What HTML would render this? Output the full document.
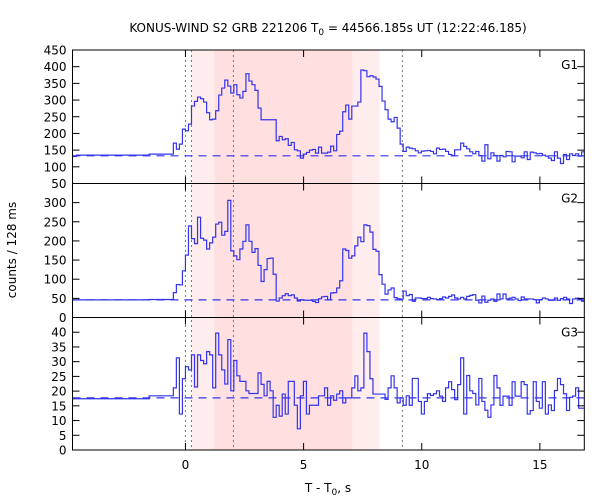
<!DOCTYPE html>
<html><head><meta charset="utf-8"><style>
body{margin:0;background:#fff}
svg{display:block}
text{font-family:"DejaVu Sans","Liberation Sans",sans-serif;font-size:12px;fill:#000}
</style></head><body>
<svg id="chart" width="600" height="500" viewBox="0 0 600 500" xmlns="http://www.w3.org/2000/svg">
<text x="328" y="32" text-anchor="middle">KONUS-WIND S2 GRB 221206 T<tspan dy="3" font-size="9">0</tspan><tspan dy="-3"> = 44566.185s UT (12:22:46.185)</tspan></text>
<text transform="translate(16,250) rotate(-90)" text-anchor="middle">counts / 128 ms</text>
<text x="328" y="492" text-anchor="middle">T - T<tspan dy="3" font-size="9">0</tspan><tspan dy="-3">, s</tspan></text>
<g id="layers"></g>
</svg>
<script>
const binWidth = 0.128;
const firstBin = -38;
const xTicks = [0, 5, 10, 15];
const shadeOuter = [0.254, 8.22];
const shadeInner = [1.23, 7.06];
const markerTimes = [0, 0.254, 2.03, 9.18];
const g1Values = [131,131,135,135,135,135,135,135,135,135,135,135,135,135,135,135,135,135,135,135,135,135,135,135,135,135,
138,138,138,138,138,138,138,138,
171,153,168,213,
208,228,282,296,309,304,294,262,241,243,268,315,336,360,342,321,346,316,306,326,379,357,346,329,276,241,241,241,241,241,178,191,181,184,164,173,151,148,126,138,143,150,152,141,159,141,141,144,162,148,197,207,265,285,243,282,282,294,390,388,370,373,369,363,341,297,271,243,235,248,216,168,146,159,156,
154,148,142,147,148,149,146,139,156,152,153,146,137,134,151,151,171,161,154,145,139,146,134,117,166,124,142,134,117,134,130,146,145,115,132,132,127,145,122,144,142,139,140,135,132,126,119,145,126,110,137,122,139,134,139,132,145];
const g2Values = [46,46,46,46,46,46,46,46,46,46,46,46,46,46,46,46,46,46,46,46,46,46,46,46,46,46,
47,47,47,47,47,47,47,47,
65,86,85,122,
163,239,206,193,262,207,202,179,195,210,244,249,215,225,306,174,161,151,179,199,242,199,170,180,136,94,125,154,155,113,43,51,57,62,57,59,51,43,46,45,45,45,42,39,49,54,55,46,64,65,77,96,179,175,155,161,187,210,198,242,240,223,178,173,112,87,61,72,77,52,49,48,69,57,60,
42.5,51,51,49.3,49.3,52.7,49.3,48.5,46.9,49.3,53.5,51,55.2,58.7,51,48.5,52.7,48.5,55.2,57.8,59.6,45.1,38.2,56,39.9,45.1,48.5,42.5,61.3,48.5,61.3,48.5,50.2,52.7,48.5,44.3,53.5,48.5,48.5,48.5,46.9,38.2,46.9,51,48.5,45.1,45.1,51,45.1,49.3,52.7,48.5,36.5,48.5,50.2,48.5,42.5];
const g3Values = [17.4,17.4,17.4,17.4,17.4,17.4,17.4,17.4,17.4,17.4,17.4,17.4,17.4,17.4,17.4,17.4,17.4,17.4,17.4,17.4,17.4,17.4,17.4,17.4,17.4,17.4,
18.4,18.4,18.4,18.4,18.4,18.4,18.4,18.4,
21.1,31.3,12.2,24.2,
28.3,27.2,32.3,21.4,32.3,30.4,29.3,33.4,32.3,21.1,39.7,32.3,27.2,22.4,37.5,20.1,30.4,25.2,23.3,23.3,20.1,19.2,19.2,19.2,26.2,22.3,18.4,23.3,20.1,11.1,15.2,11.5,19,12.2,23.3,23.3,15.2,7.2,18.4,23.3,12.2,15.2,15.2,15.2,18.4,18.4,21.1,15.2,18.4,16.9,19,20.1,16,17.7,17.7,21.1,25.2,20.1,21.1,39.7,33.4,24.2,19,19,19,19,17.2,21.1,25.2,21.1,16,17.7,15.2,18.4,15.2,
24.3,24.3,16.5,12.2,16.5,19.1,18.5,19.1,20.1,18.3,16.5,21.1,23.2,20.5,17.1,22.2,31.3,12.2,25.3,20.1,19.2,15.3,24.3,16.5,13.5,11.1,15.3,25.3,21.1,15.2,18.3,18.3,15.2,23.2,18.3,18.3,23.2,22.2,12.2,13.4,23.2,16.5,14.2,23.2,12.2,15.3,13.4,20.2,24.3,22.2,19.1,13.4,17.9,18.3,21.1,14.2,14.2];
const backgrounds = [133, 46, 17.7];
const g1Ticks = [50,100,150,200,250,300,350,400,450];
const g2Ticks = [0,50,100,150,200,250,300];
const g3Ticks = [0,5,10,15,20,25,30,35,40];

const NS = "http://www.w3.org/2000/svg";
const L = 72.5, R = 584.3, XMIN = -4.78, XMAX = 16.88;
const xs = t => L + (t - XMIN) / (XMAX - XMIN) * (R - L);
const panels = [
  {name:"g1", label:"G1", top:50, bot:183.5, ymin:50, ymax:450, vals:g1Values, ticks:g1Ticks, step:50},
  {name:"g2", label:"G2", top:183.5, bot:317.5, ymin:0, ymax:350, vals:g2Values, ticks:g2Ticks, step:50},
  {name:"g3", label:"G3", top:317.5, bot:450, ymin:0, ymax:45, vals:g3Values, ticks:g3Ticks, step:5}
];
const root = document.getElementById('layers');
function mk(tag, attrs, parent){
  const e = document.createElementNS(NS, tag);
  for (const k in attrs) e.setAttribute(k, attrs[k]);
  (parent||root).appendChild(e);
  return e;
}
// shading
const so = mk('rect', {x:xs(shadeOuter[0]), y:50, width:xs(shadeOuter[1])-xs(shadeOuter[0]), height:400, fill:'#ffecec'});


const si = mk('rect', {x:xs(shadeInner[0]), y:50, width:xs(shadeInner[1])-xs(shadeInner[0]), height:400, fill:'#ffdfe0'});


markerTimes.forEach(t => {
  const l = mk('line', {x1:xs(t), x2:xs(t), y1:50, y2:450, stroke:'#777', 'stroke-width':1, 'stroke-dasharray':'2,3'});
  
  
});
panels.forEach((p, pi) => {
  const ys = v => p.bot - (v - p.ymin) / (p.ymax - p.ymin) * (p.bot - p.top);
  const g = mk('g', {});
  
  
  // background dashed
  const bg = mk('line', {x1:L, x2:R, y1:ys(backgrounds[pi]), y2:ys(backgrounds[pi]), stroke:'#3333ee', 'stroke-width':1.2, 'stroke-dasharray':'8,6'}, g);
  
  
  // step curve
  let d = '';
  p.vals.forEach((v, i) => {
    let t0 = (firstBin + i) * binWidth, t1 = t0 + binWidth;
    t0 = Math.max(t0, XMIN); t1 = Math.min(t1, XMAX);
    if (t1 <= t0) return;
    const y = ys(v).toFixed(2);
    d += (d ? 'L' : 'M') + xs(t0).toFixed(2) + ',' + y + 'L' + xs(t1).toFixed(2) + ',' + y;
  });
  const path = mk('path', {d:d, fill:'none', stroke:'#3333ee', 'stroke-width':1.2}, g);
  
  
  // frame
  const fr = mk('rect', {x:L, y:p.top, width:R-L, height:p.bot-p.top, fill:'none', stroke:'#000', 'stroke-width':1}, g);
  
  
  // y ticks
  for (let v = p.ymin; v <= p.ymax + 1e-9; v += p.step) {
    const y = ys(v);
    mk('line', {x1:L, x2:L+7, y1:y, y2:y, stroke:'#000'}, g);
    mk('line', {x1:R-7, x2:R, y1:y, y2:y, stroke:'#000'}, g);
  }
  p.ticks.forEach(v => {
    const tx = mk('text', {x:L-6, y:ys(v)+4.5, 'text-anchor':'end', 'font-size':'13'}, g);
    tx.textContent = v;
    
    
  });
  // x ticks
  xTicks.forEach(t => {
    mk('line', {x1:xs(t), x2:xs(t), y1:p.bot, y2:p.bot-7, stroke:'#000'}, g);
    mk('line', {x1:xs(t), x2:xs(t), y1:p.top, y2:p.top+7, stroke:'#000'}, g);
  });
  const lb = mk('text', {x:578, y:p.top+19, 'text-anchor':'end', 'font-size':'13'}, g);
  lb.textContent = p.label;
  
  
});
xTicks.forEach(t => {
  const tx = mk('text', {x:xs(t), y:469, 'text-anchor':'middle', 'font-size':'13'});
  tx.textContent = t;
  
  
});
</script>
</body></html>
